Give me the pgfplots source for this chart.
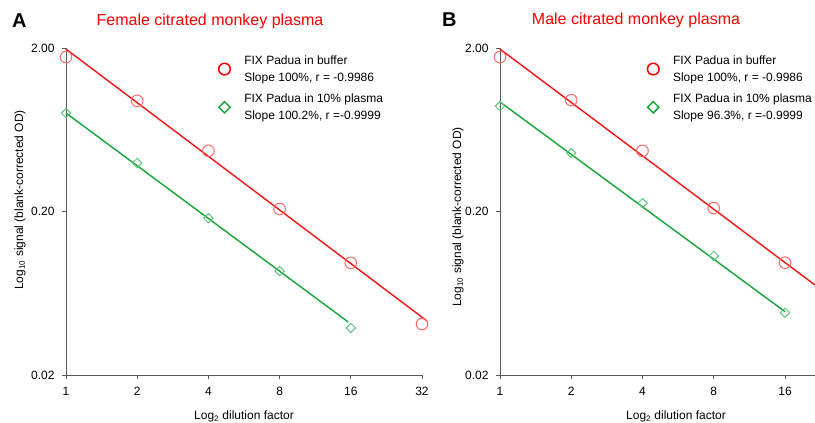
\documentclass[border=0pt]{standalone}
\usepackage{pgfplots}
\pgfplotsset{compat=1.18}
\usepackage{fontspec}
\setmainfont{Liberation Sans}
\definecolor{fitred}{RGB}{240,20,20}
\definecolor{fitgreen}{RGB}{20,165,55}
\definecolor{mkred}{RGB}{255,105,105}
\definecolor{mkgreen}{RGB}{95,195,125}
\definecolor{axgray}{RGB}{90,90,90}
\pgfplotsset{
  panel/.style={
    scale only axis, anchor=south west, height=327pt,
    log basis x=2,
    xmin=1, ymin=0.02, ymax=2,
    axis lines=left,
    axis line style={-, draw=axgray, line width=0.9pt},
    tick align=outside, major tick length=4pt,
    major tick style={draw=axgray, line width=0.8pt},
    minor tick style={draw=none},
    ytick={0.02,0.2,2}, yticklabels={0.02,0.20,2.00},
    tick label style={font=\fontsize{12}{14}\selectfont},
    yticklabel style={xshift=-4pt},
    xticklabel style={yshift=-5pt},
    clip=false,
    legend cell align=left,
    legend style={draw=none, fill=none, anchor=north west,
      font=\fontsize{12}{17}\selectfont, row sep=7pt, column sep=12pt,
      nodes={align=left}},
  },
  fitline/.style={no markers, line width=1.4pt},
  legcirc/.style={only marks, mark=o, mark size=5.8pt, draw=red, line width=1.5pt},
  legdiam/.style={only marks, mark=square, mark size=4pt, mark options={rotate=45}, draw=fitgreen, line width=1.5pt},
  ptcirc/.style={only marks, mark=o, mark size=5.8pt, draw=mkred, line width=1pt},
  ptdiam/.style={only marks, mark=square, mark size=3.3pt, mark options={rotate=45}, draw=mkgreen, line width=1pt},
}
\begin{document}
\begin{tikzpicture}[x=1pt,y=1pt]
\useasboundingbox (0,0) rectangle (815,423);
% ---------- Panel A ----------
\begin{loglogaxis}[panel, at={(66pt,48pt)}, width=356pt, xmax=32,
  /pgf/number format/assume math mode=true,
  xtick={1,2,4,8,16,32}, xticklabels={1,2,4,8,16,32},
  legend style={at={(0.42,0.99)}}]
\addlegendimage{legcirc}
\addlegendentry{FIX Padua in buffer\\Slope 100\%, r = -0.9986}
\addlegendimage{legdiam}
\addlegendentry{FIX Padua in 10\% plasma\\Slope 100.2\%, r =-0.9999}
\addplot[forget plot, fitline, fitred] coordinates {(1,1.97) (33.6,0.0428)};
\addplot[forget plot, fitline, fitgreen] coordinates {(1,0.80) (15.6,0.0422)};
\addplot[forget plot, ptcirc]
  coordinates {(1,1.76) (2,0.95) (4,0.47) (8,0.207) (16,0.097) (32,0.041)};
\addplot[forget plot, ptdiam]
  coordinates {(1,0.80) (2,0.396) (4,0.182) (8,0.0865) (16,0.0388)};
\end{loglogaxis}
% ---------- Panel B ----------
\begin{loglogaxis}[panel, at={(500pt,48pt)}, width=315pt, xmax=21.42,
  /pgf/number format/assume math mode=true,
  xtick={1,2,4,8,16}, xticklabels={1,2,4,8,16},
  legend style={at={(0.458,0.99)}}]
\addlegendimage{legcirc}
\addlegendentry{FIX Padua in buffer\\Slope 100\%, r = -0.9986}
\addlegendimage{legdiam}
\addlegendentry{FIX Padua in 10\% plasma\\Slope 96.3\%, r =-0.9999}
\addplot[forget plot, fitline, fitred] coordinates {(1,1.97) (21.42,0.071)};
\addplot[forget plot, fitline, fitgreen] coordinates {(1,0.935) (16,0.0488)};
\addplot[forget plot, ptcirc]
  coordinates {(1,1.76) (2,0.96) (4,0.47) (8,0.21) (16,0.0973)};
\addplot[forget plot, ptdiam]
  coordinates {(1,0.883) (2,0.456) (4,0.225) (8,0.107) (16,0.0481)};
\end{loglogaxis}
% ---------- titles and labels ----------
\node[anchor=base west, font=\fontsize{20}{22}\selectfont\bfseries, inner sep=0] at (12,395) {A};
\node[anchor=base west, font=\fontsize{20}{22}\selectfont\bfseries, inner sep=0] at (442,396) {B};
\node[anchor=base, text=red, font=\fontsize{16}{18}\selectfont, inner sep=0] at (210,397) {Female citrated monkey plasma};
\node[anchor=base, text=red, font=\fontsize{16}{18}\selectfont, inner sep=0] at (636,398) {Male citrated monkey plasma};
\node[anchor=base, font=\fontsize{12}{14}\selectfont, inner sep=0] at (244,3) {Log\textsubscript{2} dilution factor};
\node[anchor=base, font=\fontsize{12}{14}\selectfont, inner sep=0] at (676,3) {Log\textsubscript{2} dilution factor};
\node[anchor=base, rotate=90, font=\fontsize{12}{14}\selectfont, inner sep=0] at (23,223) {Log\textsubscript{10} signal (blank-corrected OD)};
\node[anchor=base, rotate=90, font=\fontsize{12}{14}\selectfont, inner sep=0] at (461,206) {Log\textsubscript{10} signal (blank-corrected OD)};
\end{tikzpicture}
\end{document}
